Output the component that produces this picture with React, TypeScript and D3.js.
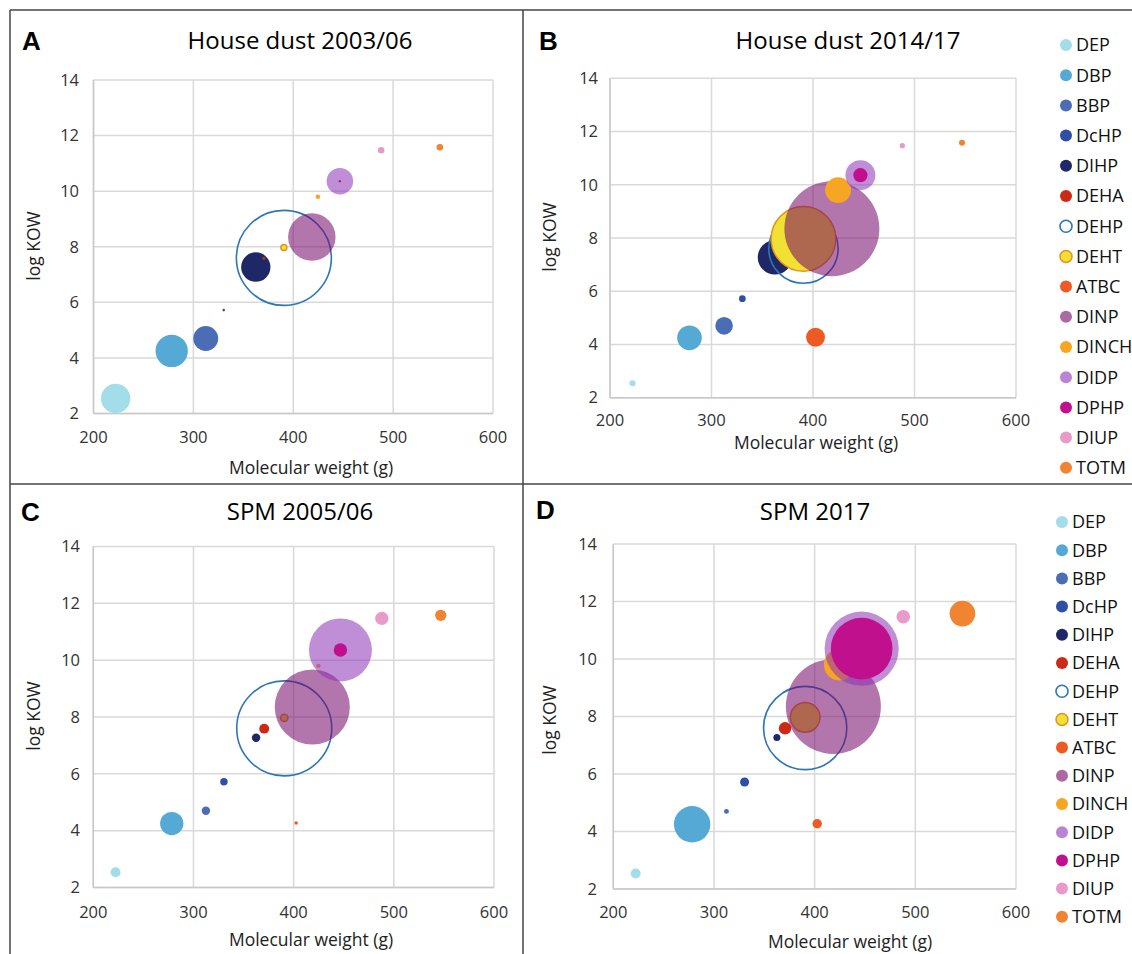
import React from 'react';
import * as d3 from 'd3';

// one series per compound, in Excel series order (drawing order)
const compounds = ['DEP', 'DBP', 'BBP', 'DcHP', 'DIHP', 'DEHA', 'DEHP', 'DEHT', 'ATBC', 'DINP', 'DINCH', 'DIDP', 'DPHP', 'DIUP', 'TOTM'];
const molWeight = [222.2, 278.3, 312.4, 330.4, 362.5, 370.6, 390.6, 390.6, 402.5, 418.6, 424.7, 446.7, 446.7, 488.0, 546.8];
const logKow = [2.54, 4.25, 4.7, 5.72, 7.27, 7.59, 7.6, 7.97, 4.27, 8.35, 9.8, 10.36, 10.36, 11.47, 11.58];

// bubble sizes (area-proportional)
const sizeDust0306 = [21.6, 26.2, 15.6, 0.17, 21.6, 0.23, 226.6, 0.9, 0, 56.6, 0.53, 17.7, 0.14, 1.1, 1.1];
const sizeDust1417 = [0.9, 14.9, 7.6, 1.1, 28.9, 2.5, 117.6, 102.4, 8.7, 220.9, 16.4, 21.9, 4.9, 0.7, 0.9];
const sizeSpm0506 = [2.5, 13.7, 1.8, 1.4, 1.8, 2.5, 228.5, 1.4, 0.3, 142.9, 0.5, 100.5, 4.6, 4.5, 3.2];
const sizeSpm2017 = [2.5, 32.4, 0.6, 2.0, 1.2, 3.8, 169.7, 21.6, 2.2, 220.9, 24.0, 134.7, 93.0, 4.5, 16.1];

const xTicks = [200, 300, 400, 500, 600];
const yTicks = [2, 4, 6, 8, 10, 12, 14];

type Look = { fill: string; opacity?: number; stroke?: string; sw?: number };
const looks: Record<string, Look> = {
  DEP: { fill: '#a2dde9' },
  DBP: { fill: '#55aad5' },
  BBP: { fill: '#4a6db6' },
  DcHP: { fill: '#2f4ea6' },
  DIHP: { fill: '#1f2867' },
  DEHA: { fill: '#cc2a14' },
  DEHP: { fill: 'none', stroke: '#2e75b6', sw: 1.6 },
  DEHT: { fill: '#f1e132', stroke: '#e39024', sw: 1.5 },
  ATBC: { fill: '#ee5a24' },
  DINP: { fill: 'rgb(117,6,104)', opacity: 0.55 },
  DINCH: { fill: '#f6a623' },
  DIDP: { fill: 'rgb(140,50,180)', opacity: 0.55 },
  DPHP: { fill: '#c0108e' },
  DIUP: { fill: '#e89ac8' },
  TOTM: { fill: '#f08430' },
};

const FONT = "'Open Sans', 'Noto Sans', sans-serif";

type Panel = {
  letter: string; title: string; sizes: number[];
  x0: number; x1: number; yTop: number; yBot: number;
  letterX: number; letterY: number; titleX: number; titleY: number;
  yLabRight: number; xLabY: number;
  xTitleX: number; xTitleY: number; yTitleX: number; yTitleY: number;
  legend?: { x: number; y: number; step: number };
};

const panels: Panel[] = [
  {
    letter: 'A', title: 'House dust 2003/06', sizes: sizeDust0306,
    x0: 93.5, x1: 493, yTop: 80, yBot: 413.5,
    letterX: 22, letterY: 50, titleX: 300, titleY: 49,
    yLabRight: 79, xLabY: 443, xTitleX: 311, xTitleY: 474, yTitleX: 40, yTitleY: 246,
  },
  {
    letter: 'B', title: 'House dust 2014/17', sizes: sizeDust1417,
    x0: 610, x1: 1016, yTop: 78.3, yBot: 397.7,
    letterX: 539, letterY: 50, titleX: 848, titleY: 49,
    yLabRight: 598, xLabY: 426, xTitleX: 816, xTitleY: 449, yTitleX: 556, yTitleY: 237,
    legend: { x: 1066, y: 45, step: 30.2 },
  },
  {
    letter: 'C', title: 'SPM 2005/06', sizes: sizeSpm0506,
    x0: 93.3, x1: 494, yTop: 546.5, yBot: 887.5,
    letterX: 21, letterY: 521, titleX: 300, titleY: 520,
    yLabRight: 80, xLabY: 918, xTitleX: 311, xTitleY: 946, yTitleX: 40, yTitleY: 716,
  },
  {
    letter: 'D', title: 'SPM 2017', sizes: sizeSpm2017,
    x0: 613.3, x1: 1016, yTop: 544, yBot: 889,
    letterX: 536, letterY: 519, titleX: 815, titleY: 520,
    yLabRight: 597, xLabY: 918, xTitleX: 850, xTitleY: 948, yTitleX: 556, yTitleY: 720,
    legend: { x: 1062, y: 522, step: 28.2 },
  },
];

const MAX_R = 47.5;

function BubblePanel({ p }: { p: Panel }) {
  const x = d3.scaleLinear().domain([200, 600]).range([p.x0, p.x1]);
  const y = d3.scaleLinear().domain([2, 14]).range([p.yBot, p.yTop]);
  const r = d3.scaleSqrt().domain([0, d3.max(p.sizes) as number]).range([0, MAX_R]);
  const grid = '#d9d9d9';

  return (
    <g>
      <text x={p.letterX} y={p.letterY} fontFamily="'Liberation Sans', Arial, sans-serif" fontWeight="bold" fontSize={26}>{p.letter}</text>
      <text x={p.titleX} y={p.titleY} textAnchor="middle" fontFamily={FONT} fontSize={24}>{p.title}</text>

      {yTicks.map((t) => (
        <line key={'gy' + t} x1={p.x0} x2={p.x1} y1={y(t)} y2={y(t)} stroke={grid} strokeWidth={1.5} />
      ))}
      {xTicks.map((t) => (
        <line key={'gx' + t} x1={x(t)} x2={x(t)} y1={p.yTop} y2={p.yBot} stroke={grid} strokeWidth={1.5} />
      ))}
      <line x1={p.x0} x2={p.x0} y1={p.yTop} y2={p.yBot} stroke="#c8c8c8" strokeWidth={1.5} />
      <line x1={p.x0} x2={p.x1} y1={p.yBot} y2={p.yBot} stroke="#c8c8c8" strokeWidth={1.5} />

      {yTicks.map((t) => (
        <text key={'ly' + t} x={p.yLabRight} y={y(t)} dy="0.35em" textAnchor="end" fontFamily={FONT} fontSize={16.5} fill="#333">{t}</text>
      ))}
      {xTicks.map((t) => (
        <text key={'lx' + t} x={x(t)} y={p.xLabY} textAnchor="middle" fontFamily={FONT} fontSize={16.5} fill="#333">{t}</text>
      ))}
      <text x={p.xTitleX} y={p.xTitleY} textAnchor="middle" fontFamily={FONT} fontSize={17.5} fill="#222">Molecular weight (g)</text>
      <text transform={`translate(${p.yTitleX},${p.yTitleY}) rotate(-90)`} textAnchor="middle" fontFamily={FONT} fontSize={17.5} fill="#222">log KOW</text>

      {compounds.map((c, i) => {
        const s = p.sizes[i];
        if (!s) return null;
        const lk = looks[c];
        return (
          <circle key={c} cx={x(molWeight[i])} cy={y(logKow[i])} r={r(s)}
            fill={lk.fill} fillOpacity={lk.opacity ?? 1}
            stroke={lk.stroke ?? 'none'} strokeWidth={lk.sw ?? 0} />
        );
      })}

      {p.legend && compounds.map((c, i) => {
        const lk = looks[c];
        const ly = p.legend!.y + i * p.legend!.step;
        return (
          <g key={'lg' + c}>
            <circle cx={p.legend!.x} cy={ly} r={6}
              fill={lk.fill} fillOpacity={lk.opacity ? 0.6 : 1}
              stroke={lk.stroke ?? 'none'} strokeWidth={lk.sw ?? 0} />
            <text x={p.legend!.x + 10} y={ly} dy="0.36em" fontFamily={FONT} fontSize={18} fill="#111">{c}</text>
          </g>
        );
      })}
    </g>
  );
}

export default function App() {
  return (
    <svg width={1132} height={954} style={{ position: 'absolute', left: 0, top: 0, background: '#fff' }}>
      <rect x={0} y={0} width={1132} height={954} fill="#fff" />
      {panels.map((p) => <BubblePanel key={p.letter} p={p} />)}
      {/* figure frame */}
      <line x1={10} x2={1132} y1={10} y2={10} stroke="#444" strokeWidth={1.5} />
      <line x1={10} x2={10} y1={10} y2={954} stroke="#444" strokeWidth={1.5} />
      <line x1={523} x2={523} y1={10} y2={954} stroke="#444" strokeWidth={1.5} />
      <line x1={10} x2={1132} y1={484} y2={484} stroke="#444" strokeWidth={1.5} />
    </svg>
  );
}
